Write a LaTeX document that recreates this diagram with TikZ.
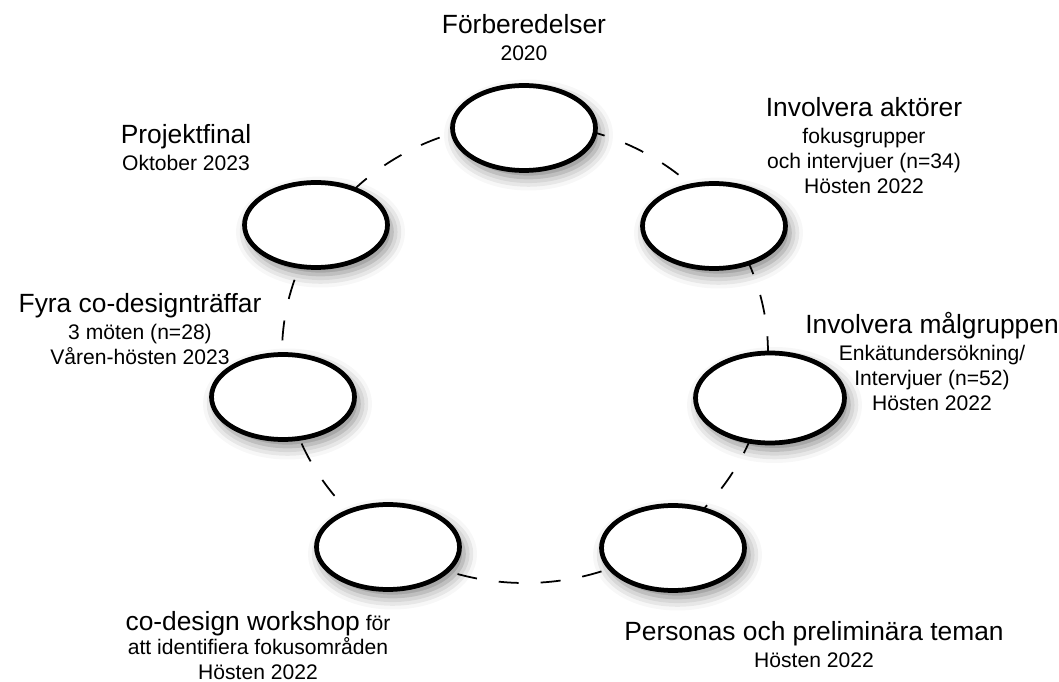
\documentclass[tikz,border=0pt]{standalone}
\usepackage{fontspec}
\setmainfont{Liberation Sans}
\usetikzlibrary{shapes.geometric,shadows.blur,backgrounds}

\newcommand{\headfont}{\fontsize{15}{18}\selectfont}
\newcommand{\notefont}{\fontsize{12}{14.2}\selectfont}

\begin{document}
\begin{tikzpicture}[x=0.02cm,y=-0.02cm,
    phase/.style={ellipse,draw,line width=2.7pt,fill=white,inner sep=0pt,
        minimum width=2.86cm,minimum height=1.7cm,
        blur shadow={shadow xshift=0.09cm,shadow yshift=-0.14cm,shadow blur radius=0.26cm,shadow opacity=50}},
    lbl/.style={align=center,inner sep=0pt,anchor=north,font=\notefont},
    ring/.style={dash pattern=on 0.4cm off 0.44cm,line width=1pt}]
    \useasboundingbox (0,0) rectangle (1059,682);

    % dashed ring the phases sit on
    \coordinate (mid) at (525,353);
    \draw[ring] (mid) ellipse [x radius=243, y radius=230];

    % the seven phases
    \node[phase] at (524,128) (prep) {};
    \node[phase] at (714,226) (actors) {};
    \node[phase,minimum width=2.98cm,minimum height=1.8cm] at (770,398) (target) {};
    \node[phase] at (673,548) (personas) {};
    \node[phase] at (388,547) (workshop) {};
    \node[phase] at (283,397) (meetings) {};
    \node[phase] at (316,225) (final) {};

    \node[lbl] at (524,14) (prepT) {{\headfont Förberedelser}\\[1pt] 2020};
    \node[lbl] at (864,97) (actorsT) {{\headfont Involvera aktörer}\\[1pt] fokusgrupper\\ och intervjuer (n=34)\\ Hösten 2022};
    \node[lbl] at (932,312) (targetT) {{\headfont Involvera målgruppen}\\[1pt] Enkätundersökning/\\ Intervjuer (n=52)\\ Hösten 2022};
    \node[lbl] at (814,621) (personasT) {{\headfont Personas och preliminära teman}\\[1pt] Hösten 2022};
    \node[lbl] at (258,611) (workshopT) {{\headfont co-design workshop} för\\[-0.5pt] att identifiera fokusområden\\ Hösten 2022};
    \node[lbl] at (140,293) (meetingsT) {{\headfont Fyra co-designträffar}\\[1pt] 3 möten (n=28)\\ Våren-hösten 2023};
    \node[lbl] at (186,124) (finalT) {{\headfont Projektfinal}\\[1pt] Oktober 2023};
\end{tikzpicture}
\end{document}
